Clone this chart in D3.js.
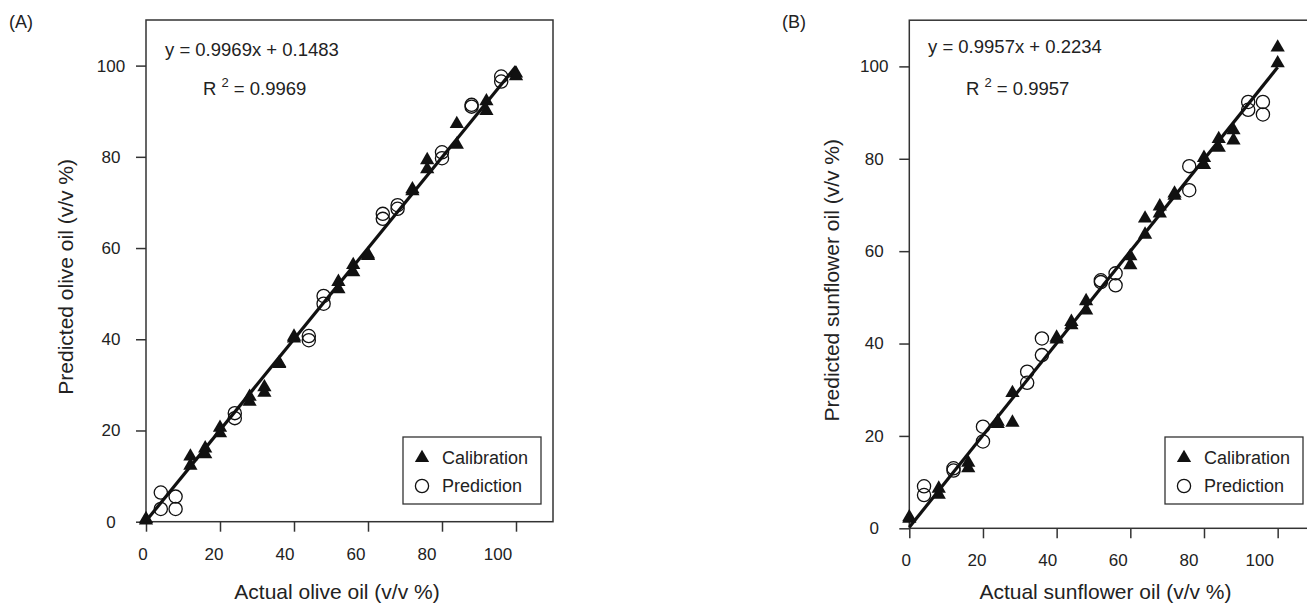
<!DOCTYPE html>
<html>
<head>
<meta charset="utf-8">
<script src="https://cdn.jsdelivr.net/npm/d3@7"></script>
<style>
  body { margin: 0; background: #fff; }
  svg { font-family: "Liberation Sans", Arial, Helvetica, sans-serif; }
</style>
</head>
<body>
<svg id="chart" width="1307" height="604"></svg>
<script>
const tickValues = [0, 20, 40, 60, 80, 100];

// (A) olive oil
const oliveCalActual = [0, 0, 12, 12, 16, 16, 20, 20, 28, 28, 32, 32, 36, 36, 40, 40,
  52, 52, 56, 56, 60, 60, 72, 72, 76, 76, 84, 84, 92, 92, 100, 100];
const oliveCalPredicted = [0.3, 0.6, 14.3, 12.3, 16.1, 14.8, 20.6, 19.4, 27.4, 26.3, 29.5, 28.3, 34.6, 34.8, 40.6, 40.2,
  52.6, 51.0, 56.3, 54.7, 58.6, 58.3, 72.9, 72.5, 79.3, 77.3, 87.2, 82.7, 92.2, 90.1, 98.3, 97.7];
const olivePredActual = [4, 4, 8, 8, 24, 24, 44, 44, 48, 48, 64, 64, 68, 68, 80, 80, 88, 88, 96, 96];
const olivePredPredicted = [6.4, 2.8, 5.5, 2.8, 23.8, 22.7, 40.7, 39.8, 49.5, 47.8, 67.5, 66.4, 69.4, 68.6, 81.0, 79.7, 91.4, 91.0, 97.6, 96.5];
const oliveFit = [0.9969, 0.1483];
const oliveR2 = "0.9969";

// (B) sunflower oil
const sunCalActual = [0, 0, 8, 8, 16, 16, 24, 24, 28, 28, 40, 40, 44, 44, 48, 48,
  60, 60, 64, 64, 68, 68, 72, 72, 80, 80, 84, 84, 88, 88, 100, 100];
const sunCalPredicted = [2.1, 2.4, 8.6, 7.3, 14.2, 13.0, 23.1, 22.6, 29.3, 22.9, 41.3, 40.9, 44.7, 44.0, 49.2, 47.2,
  58.9, 57.0, 67.1, 63.6, 69.7, 68.2, 72.5, 72.0, 80.2, 78.7, 84.3, 82.4, 86.2, 84.0, 104.1, 100.7];
const sunPredActual = [4, 4, 12, 12, 20, 20, 32, 32, 36, 36, 52, 52, 56, 56, 76, 76, 92, 92, 96, 96];
const sunPredPredicted = [9.1, 7.2, 13.0, 12.5, 22.0, 18.8, 33.9, 31.5, 41.1, 37.5, 53.7, 53.3, 55.2, 52.6, 78.4, 73.2, 92.3, 90.6, 92.3, 89.6];
const sunFit = [0.9957, 0.2234];
const sunR2 = "0.9957";

const legendLabels = ["Calibration", "Prediction"];

const svg = d3.select("#chart");
const ink = "#222";

function drawPanel(opt) {
  const g = svg.append("g");

  let x = d3.scaleLinear().domain([0, 110]).range(opt.xRange);
  let y = d3.scaleLinear().domain([0, 110]).range(opt.yRange);

  // frame
  g.append("rect")
    .attr("x", opt.xRange[0])
    .attr("y", opt.yRange[1])
    .attr("width", opt.xRange[1] - opt.xRange[0])
    .attr("height", opt.yRange[0] - opt.yRange[1])
    .attr("fill", "none")
    .attr("stroke", "#333")
    .attr("stroke-width", 1.5);

  // x axis
  let xAxis = g.append("g")
    .attr("transform", `translate(0,${opt.yRange[0]})`)
    .call(d3.axisBottom(x).tickValues(tickValues).tickSize(10).tickPadding(16));
  xAxis.select(".domain").remove();
  xAxis.selectAll(".tick line").attr("stroke", "#333").attr("stroke-width", 1.5);
  xAxis.selectAll(".tick text")
    .attr("fill", ink)
    .style("font-size", "17px")
    .attr("dx", (d) => -3.5 - 0.15 * d);

  // y axis
  let yAxis = g.append("g")
    .attr("transform", `translate(${opt.xRange[0]},0)`)
    .call(d3.axisLeft(y).tickValues(tickValues).tickSize(10));
  yAxis.select(".domain").remove();
  yAxis.selectAll(".tick line").attr("stroke", "#333").attr("stroke-width", 1.5);
  yAxis.selectAll(".tick text")
    .attr("fill", ink)
    .style("font-size", "17px")
    .attr("x", -35)
    .attr("text-anchor", "middle");

  // fitted line
  let fitLine = d3.line().x((d) => x(d)).y((d) => y(opt.fit[0] * d + opt.fit[1]));
  g.append("path")
    .attr("d", fitLine([0, 100]))
    .attr("stroke", "#111")
    .attr("stroke-width", 3.2)
    .attr("fill", "none");

  // prediction circles
  g.selectAll(".pred")
    .data(opt.predX)
    .enter()
    .append("circle")
    .attr("class", "pred")
    .attr("cx", (d) => x(d))
    .attr("cy", (d, i) => y(opt.predY[i]))
    .attr("r", 6.6)
    .attr("fill", "none")
    .attr("stroke", "#111")
    .attr("stroke-width", 1.3);

  // calibration triangles
  let tri = d3.symbol().type(d3.symbolTriangle).size(88);
  g.selectAll(".cal")
    .data(opt.calX)
    .enter()
    .append("path")
    .attr("class", "cal")
    .attr("d", tri)
    .attr("transform", (d, i) => `translate(${x(d)},${y(opt.calY[i])})`)
    .attr("fill", "#111");

  // equation
  g.append("text")
    .attr("x", opt.eq[0])
    .attr("y", opt.eq[1])
    .style("font-size", "18.5px")
    .attr("fill", ink)
    .text(`y = ${opt.fit[0]}x + ${opt.fit[1]}`);

  let r2 = g.append("text")
    .attr("x", opt.r2Pos[0])
    .attr("y", opt.r2Pos[1])
    .style("font-size", "18.5px")
    .attr("fill", ink);
  r2.append("tspan").text("R ");
  r2.append("tspan").attr("dy", -8).style("font-size", "13px").text("2");
  r2.append("tspan").attr("dy", 8).text(" = " + opt.r2);

  // legend
  let lg = g.append("g").attr("transform", `translate(${opt.legend[0]},${opt.legend[1]})`);
  lg.append("rect")
    .attr("width", 138)
    .attr("height", 67)
    .attr("fill", "white")
    .attr("stroke", "#333")
    .attr("stroke-width", 1.3);
  lg.append("path")
    .attr("d", tri)
    .attr("transform", "translate(19,21)")
    .attr("fill", "#111");
  lg.append("circle")
    .attr("cx", 19)
    .attr("cy", 49)
    .attr("r", 6.6)
    .attr("fill", "none")
    .attr("stroke", "#111")
    .attr("stroke-width", 1.3);
  lg.selectAll(".lt")
    .data(legendLabels)
    .enter()
    .append("text")
    .attr("x", 39)
    .attr("y", (d, i) => 21 + i * 28)
    .attr("dy", "0.35em")
    .style("font-size", "18px")
    .attr("fill", ink)
    .text((d) => d);

  // axis titles
  g.append("text")
    .attr("x", (opt.xRange[0] + x(100)) / 2 + opt.xTitleShift)
    .attr("y", 599)
    .attr("text-anchor", "middle")
    .style("font-size", "21px")
    .attr("fill", ink)
    .text(opt.xTitle);

  g.append("text")
    .attr("transform", `translate(${opt.yTitleX},${(opt.yRange[0] + opt.yRange[1]) / 2 + 6}) rotate(-90)`)
    .attr("text-anchor", "middle")
    .attr("dy", "0.35em")
    .style("font-size", "21px")
    .attr("fill", ink)
    .text(opt.yTitle);

  // panel label
  g.append("text")
    .attr("x", opt.tag[0])
    .attr("y", opt.tag[1])
    .style("font-size", "18px")
    .attr("fill", ink)
    .text(opt.label);
}

drawPanel({
  xRange: [146, 553], yRange: [521.7, 20],
  calX: oliveCalActual, calY: oliveCalPredicted,
  predX: olivePredActual, predY: olivePredPredicted,
  fit: oliveFit, r2: oliveR2,
  eq: [165, 56], r2Pos: [203, 95],
  legend: [403, 437],
  xTitle: "Actual olive oil (v/v %)", xTitleShift: 6,
  yTitle: "Predicted olive oil (v/v %)", yTitleX: 66,
  label: "(A)", tag: [9, 28]
});

drawPanel({
  xRange: [909.3, 1314.5], yRange: [528.3, 20.2],
  calX: sunCalActual, calY: sunCalPredicted,
  predX: sunPredActual, predY: sunPredPredicted,
  fit: sunFit, r2: sunR2,
  eq: [928, 53], r2Pos: [966, 95],
  legend: [1165, 437],
  xTitle: "Actual sunflower oil (v/v %)", xTitleShift: 12,
  yTitle: "Predicted sunflower oil (v/v %)", yTitleX: 832,
  label: "(B)", tag: [782, 28]
});
</script>
</body>
</html>
